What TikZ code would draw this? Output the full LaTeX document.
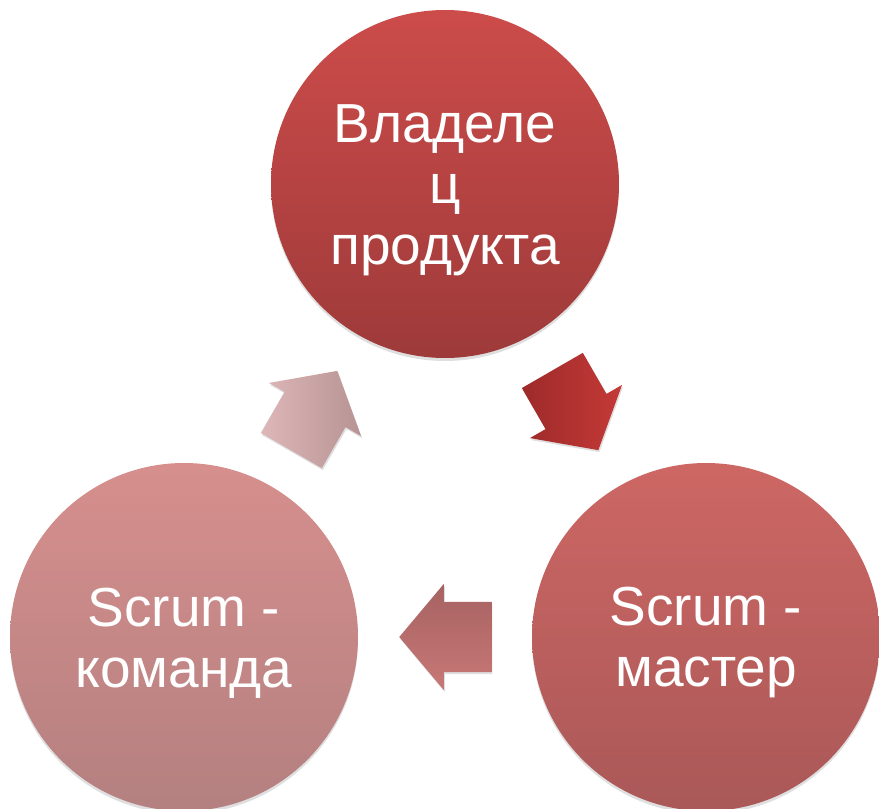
\documentclass[tikz,border=0pt]{standalone}
\usepackage{fontspec}
\setmainfont{Liberation Sans}
\usetikzlibrary{shapes.arrows,shadows,calc}

\definecolor{ownerTop}{HTML}{CC4C4A}
\definecolor{ownerBot}{HTML}{9E3A3A}
\definecolor{masterTop}{HTML}{CD6764}
\definecolor{masterBot}{HTML}{AA5858}
\definecolor{teamTop}{HTML}{D68F8D}
\definecolor{teamBot}{HTML}{B48080}
\newcommand{\lift}{\rule{0pt}{50pt}}

\begin{document}
\begin{tikzpicture}[x=1pt, y=-1pt,
    role/.style={circle, minimum size=348pt, inner sep=0pt, align=center,
                 text=white, font=\fontsize{55}{61}\selectfont,
                 drop shadow={opacity=0.25, shadow xshift=0pt, shadow yshift=-3pt}},
    turn/.style={single arrow, minimum height=92pt, inner xsep=0pt, inner ysep=35pt,
                 single arrow head extend=18pt, single arrow tip angle=100, anchor=tip,
                 drop shadow={opacity=0.25, shadow xshift=1pt, shadow yshift=-2pt}}
  ]
    \useasboundingbox (0,0) rectangle (879,809);

    \node[role, top color=ownerTop, bottom color=ownerBot]   (owner)  at (445,184)
        {\lift Владеле\\ц\\продукта};
    \node[role, top color=masterTop, bottom color=masterBot] (master) at (706,637)
        {\lift Scrum -\\мастер};
    \node[role, top color=teamTop, bottom color=teamBot]     (team)   at (184,637)
        {\lift Scrum -\\команда};

    % arrows between the roles
    \coordinate (m1) at ($(owner)!0.5!(master)$);
    \coordinate (m2) at ($(master)!0.5!(team)$);
    \coordinate (m3) at ($(team)!0.5!(owner)$);
    \node[turn, rotate=-60, left color={rgb,255:red,158;green,42;blue,42},
          right color={rgb,255:red,196;green,58;blue,55}]
          (a1) at ($(m1)!46pt!(master)$) {};
    \node[turn, rotate=180, top color={rgb,255:red,166;green,98;blue,98},
          bottom color={rgb,255:red,200;green,120;blue,118}]
          (a2) at ($(m2)!46pt!(team)$) {};
    \node[turn, rotate=60, left color={rgb,255:red,222;green,183;blue,185},
          right color={rgb,255:red,183;green,147;blue,147}]
          (a3) at ($(m3)!46pt!(owner)$) {};
\end{tikzpicture}
\end{document}
